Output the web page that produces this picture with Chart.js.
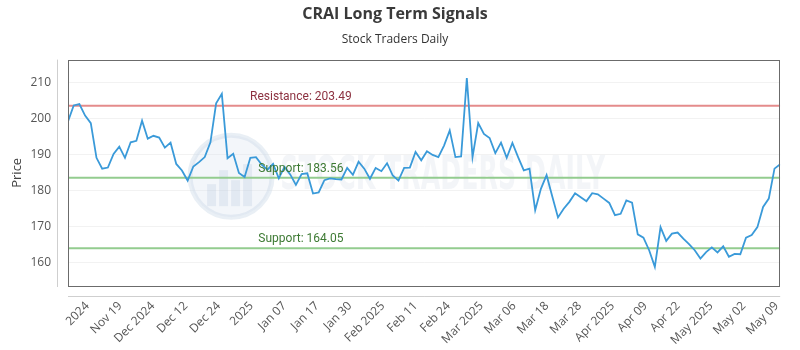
<!DOCTYPE html>
<html>
<head>
<meta charset="utf-8">
<script src="https://cdn.jsdelivr.net/npm/chart.js@4.4.1/dist/chart.umd.min.js"></script>
<style>
  html, body { margin: 0; padding: 0; background: #fff; }
  #wrap { width: 800px; height: 350px; position: relative; }
</style>
</head>
<body>
<div id="wrap"><canvas id="chart"></canvas></div>
<script>
// daily closes
const prices = [
  199.2, 203.6, 204.0, 200.8, 198.7, 189.1, 186.1, 186.4, 190.2, 192.2,
  189.1, 193.4, 193.8, 199.4, 194.4, 195.2, 194.7, 191.9, 193.3, 187.4,
  185.6, 182.8, 186.7, 187.9, 189.3, 193.4, 204.2, 206.8, 189.0, 190.2,
  184.9, 183.8, 189.1, 189.3, 187.2, 185.8, 187.4, 183.4, 186.6, 184.5,
  181.6, 184.6, 184.8, 179.2, 179.5, 182.9, 183.4, 183.2, 183.1, 186.3,
  184.4, 188.0, 186.1, 183.3, 186.3, 185.4, 187.6, 184.2, 182.8, 186.3,
  186.4, 190.7, 188.4, 190.9, 189.9, 189.3, 192.5, 196.7, 189.3, 189.5,
  211.2, 189.3, 198.7, 195.7, 194.6, 190.4, 193.3, 189.1, 193.2, 189.3,
  185.6, 186.1, 174.6, 180.5, 184.3, 178.4, 172.6, 175.0, 176.9, 179.3,
  178.2, 177.1, 179.3, 179.0, 177.8, 176.6, 173.2, 173.6, 177.3, 176.7,
  167.9, 167.0, 163.5, 158.9, 169.9, 166.1, 168.1, 168.4, 166.7, 165.2,
  163.5, 161.2, 163.0, 164.3, 162.9, 164.6, 161.7, 162.5, 162.4, 167.0,
  167.7, 169.9, 175.5, 177.8, 186.1, 187.3
];

const xTickLabels = [
  "2024", "Nov 19", "Dec 2024", "Dec 12", "Dec 24", "2025", "Jan 07", "Jan 17",
  "Jan 30", "Feb 2025", "Feb 11", "Feb 24", "Mar 2025", "Mar 06", "Mar 18",
  "Mar 28", "Apr 2025", "Apr 09", "Apr 22", "May 2025", "May 02", "May 09"
];
const yTicks = [160, 170, 180, 190, 200, 210];

const levelNames = ["Resistance", "Support", "Support"];
const levelValues = [203.49, 183.56, 164.05];

(function () {
  const lineBlue = "#3a9ad9";
  const redLine = "#e48b8b", redText = "#8c3140";
  const greenLine = "#93cc8f", greenText = "#3d7a33";
  const tickFont = { family: "'Open Sans', sans-serif", size: 12 };
  const last = prices.length - 1;
  const firstTick = 3.4, lastTick = 124.4;

  const datasets = [{
    label: "CRAI",
    data: prices.map((p, i) => ({ x: i, y: p })),
    borderColor: lineBlue,
    borderWidth: 1.8,
    pointRadius: 0,
    tension: 0,
    order: 0,
  }];
  levelValues.forEach((v, k) => {
    datasets.push({
      label: levelNames[k],
      data: [{ x: 0, y: v }, { x: last, y: v }],
      borderColor: levelNames[k] === "Resistance" ? redLine : greenLine,
      borderWidth: 2,
      pointRadius: 0,
      order: 1,
    });
  });

  const watermark = {
    id: "watermark",
    beforeDatasetsDraw(chart) {
      const { ctx, chartArea: a } = chart;
      const w = a.right - a.left, h = a.bottom - a.top;
      const cx = a.left + w * 0.229, cy = a.top + h * 0.515, r = 41;
      ctx.save();
      ctx.beginPath();
      ctx.arc(cx, cy, r, 0, Math.PI * 2);
      ctx.fillStyle = "rgba(215,226,238,0.3)";
      ctx.fill();
      ctx.lineWidth = 5;
      ctx.strokeStyle = "rgba(200,214,230,0.4)";
      ctx.stroke();
      ctx.fillStyle = "rgba(185,202,222,0.3)";
      [[-24, 8], [-12, -6], [0, 4], [12, -12]].forEach(([dx, dy]) => {
        ctx.fillRect(cx + dx, cy + dy, 9, 30 - dy);
      });
      ctx.font = "bold 46px 'DejaVu Sans Condensed', 'DejaVu Sans', sans-serif";
      const txt = "STOCK TRADERS DAILY";
      const tw = ctx.measureText(txt).width;
      ctx.translate(a.left + w * 0.298, a.top + h * 0.52);
      ctx.scale((w * 0.456) / tw, 1);
      ctx.textBaseline = "middle";
      ctx.fillStyle = "rgba(200,210,224,0.22)";
      ctx.fillText(txt, 0, 0);
      ctx.restore();
    },
  };

  const frame = {
    id: "frame",
    afterDraw(chart) {
      const { ctx, chartArea: a, scales } = chart;
      ctx.save();
      // level captions
      ctx.font = "12px Roboto, sans-serif";
      ctx.textAlign = "center";
      ctx.textBaseline = "bottom";
      levelValues.forEach((v, k) => {
        const y = scales.y.getPixelForValue(v);
        ctx.fillStyle = levelNames[k] === "Resistance" ? redText : greenText;
        ctx.fillText(levelNames[k] + ": " + v.toFixed(2), a.left + (a.right - a.left) * 0.327, y - 3);
      });
      // plot box
      ctx.strokeStyle = "#6b6b6b";
      ctx.lineWidth = 1;
      ctx.strokeRect(Math.round(a.left) + 0.5, Math.round(a.top) + 0.5,
        Math.round(a.right - a.left) - 1, Math.round(a.bottom - a.top));
      // offset axis lines
      ctx.strokeStyle = "#cfcfcf";
      ctx.beginPath();
      ctx.moveTo(Math.round(a.left) - 10.5, a.top);
      ctx.lineTo(Math.round(a.left) - 10.5, a.bottom + 1);
      ctx.moveTo(a.left, Math.round(a.bottom) + 10.5);
      ctx.lineTo(a.right, Math.round(a.bottom) + 10.5);
      ctx.stroke();
      ctx.restore();
    },
  };

  new Chart(document.getElementById("chart"), {
    type: "line",
    data: { datasets },
    plugins: [watermark, frame],
    options: {
      responsive: true,
      maintainAspectRatio: false,
      animation: false,
      layout: { padding: { left: 0, right: 10, top: 0, bottom: 0 } },
      plugins: {
        legend: { display: false },
        tooltip: { enabled: false },
        title: {
          display: true,
          text: "CRAI Long Term Signals",
          color: "#3a3a3a",
          font: { family: "'Open Sans', sans-serif", size: 16, weight: "bold" },
          padding: { top: 5, bottom: 5 },
        },
        subtitle: {
          display: true,
          text: "Stock Traders Daily",
          color: "#333",
          font: { family: "'Open Sans', sans-serif", size: 12 },
          padding: { top: 3, bottom: 13 },
        },
      },
      scales: {
        x: {
          type: "linear",
          min: 0,
          max: last,
          grid: { display: false, drawTicks: false },
          border: { display: false },
          afterBuildTicks(scale) {
            const step = (lastTick - firstTick) / (xTickLabels.length - 1);
            scale.ticks = xTickLabels.map((_, i) => ({ value: firstTick + i * step }));
          },
          afterFit(scale) { scale.height = 64; },
          ticks: {
            autoSkip: false,
            maxRotation: 45,
            minRotation: 45,
            padding: 13,
            color: "#555",
            font: tickFont,
            callback(v, i) { return xTickLabels[i]; },
          },
        },
        y: {
          min: 153.6,
          max: 216.3,
          grid: { color: "rgba(0,0,0,0.05)", drawTicks: false },
          border: { display: false },
          afterBuildTicks(scale) {
            scale.ticks = yTicks.map((v) => ({ value: v }));
          },
          afterFit(scale) { scale.width = 68; },
          ticks: { padding: 17, color: "#555", font: tickFont },
          title: {
            display: true,
            text: "Price",
            color: "#444",
            font: { family: "'Open Sans', sans-serif", size: 13 },
            padding: { top: 9, bottom: 0 },
          },
        },
      },
    },
  });
})();
</script>
</body>
</html>
